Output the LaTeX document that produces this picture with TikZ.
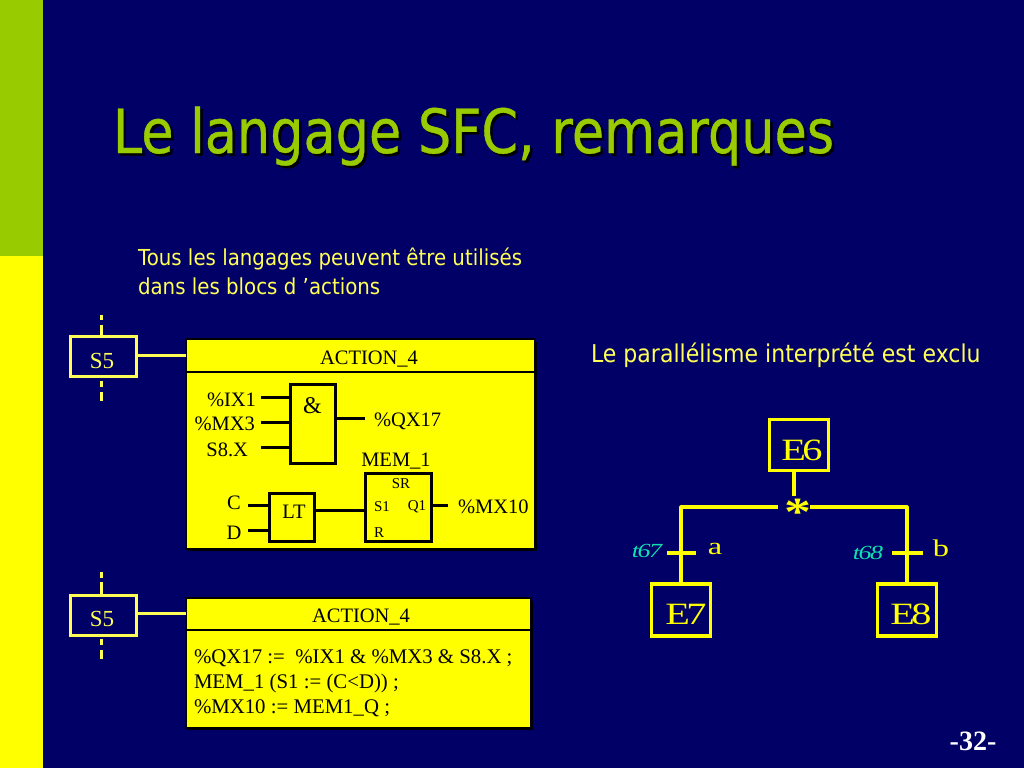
\documentclass[tikz,border=0pt]{standalone}
\usepackage{fontspec}
\setmainfont{Liberation Serif}
\setsansfont{DejaVu Sans}[FakeStretch=0.9]
\newfontfamily\titlefont{DejaVu Sans}[FakeStretch=0.86,FakeBold=0.6]
\newfontfamily\stepfont{Liberation Serif}[FakeStretch=1.3,LetterSpace=-12]
\newfontfamily\transfont{Liberation Serif}[FakeStretch=1.3,LetterSpace=-7]
\newfontfamily\letterfont{Liberation Serif}[FakeStretch=1.35]
\usetikzlibrary{positioning, calc}
\definecolor{navyBack}{HTML}{000066}
\definecolor{limeBand}{HTML}{99CC00}
\definecolor{signal}{HTML}{FFFF00}
\definecolor{paleSignal}{HTML}{FFFF55}
\definecolor{tealLabel}{HTML}{10E0B0}
\def\fs#1{\fontsize{#1}{#1}\selectfont}

\begin{document}
\begin{tikzpicture}[
    x=1pt, y=-1pt,
    every node/.style={inner sep=0pt, outer sep=0pt},
    wire/.style={draw=signal, line width=3.2pt},
    dashwire/.style={draw=paleSignal, line width=3pt},
    pin/.style={draw=black, line width=3pt},
    stepbox/.style={draw=paleSignal, line width=3pt, rectangle},
    steplabel/.style={font=\fs{23}, text=paleSignal},
    graf/.style={draw=signal, line width=3.2pt, rectangle},
    graflabel/.style={font=\stepfont\fs{31}, text=signal},
    actionbox/.style={draw=black, line width=2.4pt, fill=signal},
    gate/.style={draw=black, line width=3pt, rectangle, anchor=north west},
    blk/.style={font=\fs{20.5}, text=black},
    small/.style={font=\fs{15}, text=black},
    code/.style={font=\fs{20.8}, text=black, anchor=base west},
    note/.style={font=\sffamily\fs{22}, text=paleSignal, anchor=west},
    ]

% ====================================================================
% Background and left band
% ====================================================================
\useasboundingbox (0,0) rectangle (1024,768);
\fill[navyBack] (0,0) rectangle (1024,768);
\fill[limeBand] (0,0) rectangle (43,256);
\fill[signal] (0,256) rectangle (43,768);

% Title with its shadow
\node[font=\titlefont\fs{61}, text=black, anchor=base west] (titleShadow) at (115.5,155.5) {Le langage SFC, remarques};
\node[font=\titlefont\fs{61}, text=limeBand, anchor=base west] (title) at (113,153) {Le langage SFC, remarques};

% Notes
\node[note] (noteA) at (138,259) {Tous les langages peuvent être utilisés};
\node[note] (noteB) at (138,286) {dans les blocs d ’actions};
\node[note, font=\sffamily\fs{24.5}] (noteC) at (591,355) {Le parallélisme interprété est exclu};

% ====================================================================
% Upper step with its graphical action block
% ====================================================================
\node[stepbox, minimum width=66pt, minimum height=40pt] (stepA) at (103,356) {};
\node[steplabel] (stepAName) at (102,361) {S5};
\foreach \a/\b in {315/320, 325/335, 381/387, 392/401}{
  \draw[dashwire] (101,\a) -- (101,\b);
}

\fill[black] (188,342) rectangle (537,551);
\node[actionbox, minimum width=349pt, minimum height=210pt, anchor=north west] (actionA) at (186,339) {};
\draw[stepbox] (stepA.east |- 0,355) -- (actionA.west |- 0,355);
\draw[black, line width=2.4pt] (actionA.west |- 0,372) -- (actionA.east |- 0,372);
\node[blk] (actionAName) at (369,359) {ACTION\_4};

% AND gate
\node[gate, minimum width=45pt, minimum height=79pt] (andGate) at (290,384) {};
\node[font=\fs{24}, text=black] (andSign) at (312.5,406) {\&};
\node[blk, anchor=east] (inIX) at (256,400) {\%IX1};
\node[blk, anchor=east] (inMX) at (255,424) {\%MX3};
\node[blk, anchor=east] (inSX) at (248,450) {S8.X};
\node[blk, anchor=west] (outQX) at (374,421) {\%QX17};
\coordinate (pinA) at (261,397);
\coordinate (pinB) at (261,422);
\coordinate (pinC) at (261,447);
\coordinate (pinOut) at (365,418);
\foreach \p in {pinA,pinB,pinC}{
  \draw[pin] (\p) -- (andGate.west |- \p);
}
\draw[pin] (andGate.east |- pinOut) ++(2,0) -- (pinOut);

% Comparison and memory
\node[gate, minimum width=45pt, minimum height=48pt] (ltGate) at (269,493) {};
\node[blk] (ltName) at (294,512) {LT};
\node[gate, minimum width=66pt, minimum height=68pt] (srGate) at (365,473) {};
\node[blk] (memName) at (396,461) {MEM\_1};
\node[small] (srName) at (401,484) {SR};
\node[small] (srS) at (382,507) {S1};
\node[small] (srQ) at (417,507) {Q1};
\node[small] (srR) at (379,533) {R};
\node[blk] (inC) at (234,503) {C};
\node[blk] (inD) at (234,533) {D};
\node[blk, anchor=west] (outMX) at (458,507) {\%MX10};
\coordinate (pinD) at (248,505);
\coordinate (pinE) at (248,530);
\coordinate (pinF) at (448,505);
\draw[pin] (pinD) -- (ltGate.west |- pinD);
\draw[pin] (pinE) -- (ltGate.west |- pinE);
\draw[pin] (ltGate.east |- 0,510) -- (srGate.west |- 0,510);
\draw[pin] (srGate.east |- pinF) -- (pinF);

% ====================================================================
% Lower step with its textual action block
% ====================================================================
\node[stepbox, minimum width=66pt, minimum height=40pt] (stepB) at (103,615) {};
\node[steplabel] (stepBName) at (102,619) {S5};
\foreach \a/\b in {572/578, 582/594, 639/645, 650/659}{
  \draw[dashwire] (101,\a) -- (101,\b);
}

\fill[black] (188,601) rectangle (533,730);
\node[actionbox, minimum width=345pt, minimum height=130pt, anchor=north west] (actionB) at (186,598) {};
\draw[stepbox] (stepB.east |- 0,613) -- (actionB.west |- 0,613);
\draw[black, line width=2.4pt] (actionB.west |- 0,630) -- (actionB.east |- 0,630);
\node[blk] (actionBName) at (361,617) {ACTION\_4};
\node[code] (codeA) at (194,663) {\%QX17 :=\ \ \%IX1 \& \%MX3 \& S8.X ;};
\node[code] (codeB) at (194,688) {MEM\_1 (S1 := (C<D)) ;};
\node[code] (codeC) at (194,713) {\%MX10 := MEM1\_Q ;};

% ====================================================================
% Divergence E6 to E7 and E8
% ====================================================================
\node[graf, minimum width=59pt, minimum height=51pt] (stepSix) at (799,445) {};
\node[graf, minimum width=59pt, minimum height=52pt] (stepSeven) at (681,610) {};
\node[graf, minimum width=59pt, minimum height=52pt] (stepEight) at (907,610) {};
\node[graflabel] (stepSixName) at (802,450) {E6};
\node[graflabel] (stepSevenName) at (686,614) {E7};
\node[graflabel] (stepEightName) at (911,614) {E8};
\node[font=\fs{40}, text=signal] (star) at (798,512) {\scalebox{1.35}[1]{\bfseries *}};
\coordinate (forkL) at (778,507);
\coordinate (forkR) at (810,507);
\coordinate (forkTop) at (794,496);
\draw[wire] (stepSix.south -| forkTop) -- (forkTop);
\draw[wire, line join=round] (forkL) -| (stepSeven.north);
\draw[wire, line join=round] (forkR) -| (stepEight.north);
\draw[wire] (667,553) -- (696,553);
\draw[wire] (892,553) -- (923,553);
\node[font=\transfont\itshape\fs{20}, text=tealLabel] (transL) at (647,551) {t67};
\node[font=\transfont\itshape\fs{20}, text=tealLabel] (transR) at (868,553) {t68};
\node[font=\letterfont\fs{24}, text=signal] (condA) at (715,549) {a};
\node[font=\letterfont\fs{24}, text=signal] (condB) at (941,548) {b};

% Page number
\node[font=\bfseries\fs{28}, text=white] (pageNum) at (973,741) {-32-};

\end{tikzpicture}
\end{document}
